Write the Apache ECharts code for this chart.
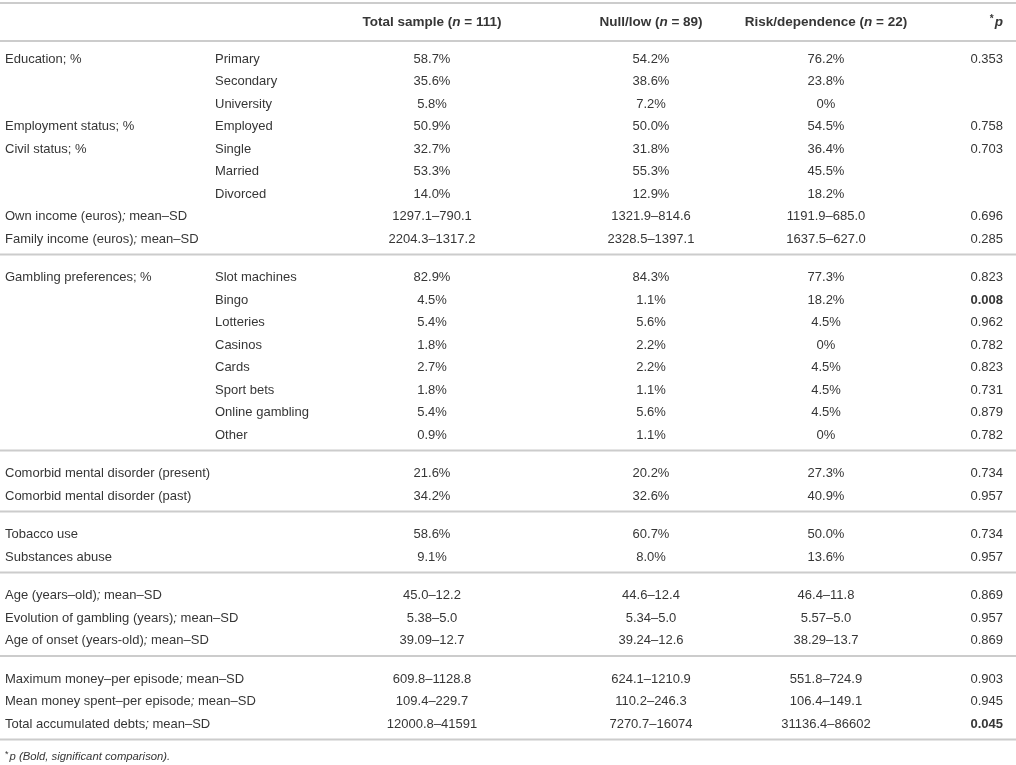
<!DOCTYPE html>
<html><head><meta charset="utf-8">
<script src="https://cdn.jsdelivr.net/npm/echarts@6/dist/echarts.min.js"></script>
<style>html,body{margin:0;padding:0;background:#fff}#c{width:1016px;height:765px}</style>
</head><body><div id="c"></div>
<script>
// ---------- DATA ----------
const headerTitles = ['Total sample', 'Null/low', 'Risk/dependence'];
const headerN = ['111', '89', '22'];
const groupSizes = [9, 8, 2, 2, 3, 3];
const rowLabels = [
  'Education; %', '', '', 'Employment status; %', 'Civil status; %', '', '',
  'Own income (euros); mean–SD', 'Family income (euros); mean–SD',
  'Gambling preferences; %', '', '', '', '', '', '', '',
  'Comorbid mental disorder (present)', 'Comorbid mental disorder (past)',
  'Tobacco use', 'Substances abuse',
  'Age (years–old); mean–SD', 'Evolution of gambling (years); mean–SD', 'Age of onset (years-old); mean–SD',
  'Maximum money–per episode; mean–SD', 'Mean money spent–per episode; mean–SD', 'Total accumulated debts; mean–SD'
];
const subLabels = [
  'Primary', 'Secondary', 'University', 'Employed', 'Single', 'Married', 'Divorced', '', '',
  'Slot machines', 'Bingo', 'Lotteries', 'Casinos', 'Cards', 'Sport bets', 'Online gambling', 'Other',
  '', '', '', '', '', '', '', '', '', ''
];
const totalSample = [
  '58.7%', '35.6%', '5.8%', '50.9%', '32.7%', '53.3%', '14.0%', '1297.1–790.1', '2204.3–1317.2',
  '82.9%', '4.5%', '5.4%', '1.8%', '2.7%', '1.8%', '5.4%', '0.9%',
  '21.6%', '34.2%', '58.6%', '9.1%',
  '45.0–12.2', '5.38–5.0', '39.09–12.7',
  '609.8–1128.8', '109.4–229.7', '12000.8–41591'
];
const nullLow = [
  '54.2%', '38.6%', '7.2%', '50.0%', '31.8%', '55.3%', '12.9%', '1321.9–814.6', '2328.5–1397.1',
  '84.3%', '1.1%', '5.6%', '2.2%', '2.2%', '1.1%', '5.6%', '1.1%',
  '20.2%', '32.6%', '60.7%', '8.0%',
  '44.6–12.4', '5.34–5.0', '39.24–12.6',
  '624.1–1210.9', '110.2–246.3', '7270.7–16074'
];
const riskDependence = [
  '76.2%', '23.8%', '0%', '54.5%', '36.4%', '45.5%', '18.2%', '1191.9–685.0', '1637.5–627.0',
  '77.3%', '18.2%', '4.5%', '0%', '4.5%', '4.5%', '4.5%', '0%',
  '27.3%', '40.9%', '50.0%', '13.6%',
  '46.4–11.8', '5.57–5.0', '38.29–13.7',
  '551.8–724.9', '106.4–149.1', '31136.4–86602'
];
const pValues = [
  '0.353', '', '', '0.758', '0.703', '', '', '0.696', '0.285',
  '0.823', '0.008', '0.962', '0.782', '0.823', '0.731', '0.879', '0.782',
  '0.734', '0.957', '0.734', '0.957',
  '0.869', '0.957', '0.869',
  '0.903', '0.945', '0.045'
];
const footnoteText = 'p (Bold, significant comparison).';

// ---------- LAYOUT ----------
const W = 1016, H = 765;
const colX = [5, 215, 432, 651, 826, 1003];
const colAlign = ['left', 'left', 'center', 'center', 'center', 'right'];
const headerY = 22, firstRowY = 59, rowH = 22.5, groupExtra = 16, lineOffset = 15.5;
const topLineY = 3, headLineY = 41, footY = 757;
const TEXT = '#363636', LINE = '#cccccc';
const FONT = '"Liberation Sans", Arial, Helvetica, sans-serif';
const FS = 13, HFS = 13.5;

const rowY = [], lineYs = [topLineY, headLineY];
let y = firstRowY;
groupSizes.forEach((n, g) => {
  for (let i = 0; i < n; i++) { rowY.push(y); y += rowH; }
  lineYs.push(rowY[rowY.length - 1] + lineOffset);
  y += groupExtra;
});

const cells = [];
function fmtLabel(s) { return s.replace('; mean', '{i|;} mean'); }
headerTitles.forEach((t, k) => cells.push({ c: k + 2, y: headerY, text: t + ' ({ni|n} = ' + headerN[k] + ')', bold: true, head: true }));
cells.push({ c: 5, y: headerY, text: '{sa|*}{ni|p}', bold: true, head: true });
rowLabels.forEach((_, r) => {
  const cols = [fmtLabel(rowLabels[r]), subLabels[r], totalSample[r], nullLow[r], riskDependence[r], pValues[r]];
  cols.forEach((t, c) => {
    if (t === '') return;
    const bold = c === 5 && parseFloat(t) < 0.05;
    cells.push({ c, y: rowY[r], text: t, bold });
  });
});
cells.push({ c: 0, y: footY, text: '{sf|*}{fi|' + footnoteText + '}', bold: false, small: true });

const richStyles = {
  i: { fontStyle: 'italic', fontFamily: FONT, fontSize: FS, fill: TEXT },
  ni: { fontStyle: 'italic', fontWeight: 'bold', fontFamily: FONT, fontSize: HFS, fill: TEXT },
  sa: { fontWeight: 'bold', fontFamily: FONT, fontSize: 10, fill: TEXT, padding: [0, 1, 5, 0] },
  sf: { fontFamily: FONT, fontSize: 9, fill: TEXT, padding: [0, 1, 4, 0] },
  fi: { fontStyle: 'italic', fontFamily: FONT, fontSize: 11.3, fill: TEXT }
};

const chart = echarts.init(document.getElementById('c'), null, { renderer: 'canvas' });
chart.setOption({
  animation: false,
  backgroundColor: '#ffffff',
  grid: { left: 0, right: 0, top: 0, bottom: 0 },
  xAxis: { type: 'value', min: 0, max: W, show: false },
  yAxis: { type: 'value', min: 0, max: H, inverse: true, show: false },
  series: [
    {
      type: 'custom',
      silent: true,
      data: lineYs.map(v => [0, v]),
      renderItem: (params, api) => {
        const p1 = api.coord([0, api.value(1)]);
        const p2 = api.coord([W, api.value(1)]);
        return { type: 'line', shape: { x1: p1[0], y1: p1[1], x2: p2[0], y2: p2[1] }, style: { stroke: LINE, lineWidth: 1.8 } };
      }
    },
    {
      type: 'custom',
      silent: true,
      data: cells.map(d => [colX[d.c], d.y]),
      renderItem: (params, api) => {
        const d = cells[params.dataIndex];
        const p = api.coord([api.value(0), api.value(1)]);
        return {
          type: 'text',
          style: {
            x: p[0], y: p[1], text: d.text,
            fill: TEXT, fontFamily: FONT, fontSize: d.small ? 11.3 : (d.head ? HFS : FS),
            fontWeight: d.bold ? 'bold' : 'normal',
            align: colAlign[d.c], verticalAlign: 'middle',
            rich: richStyles
          }
        };
      }
    }
  ]
});
</script></body></html>
